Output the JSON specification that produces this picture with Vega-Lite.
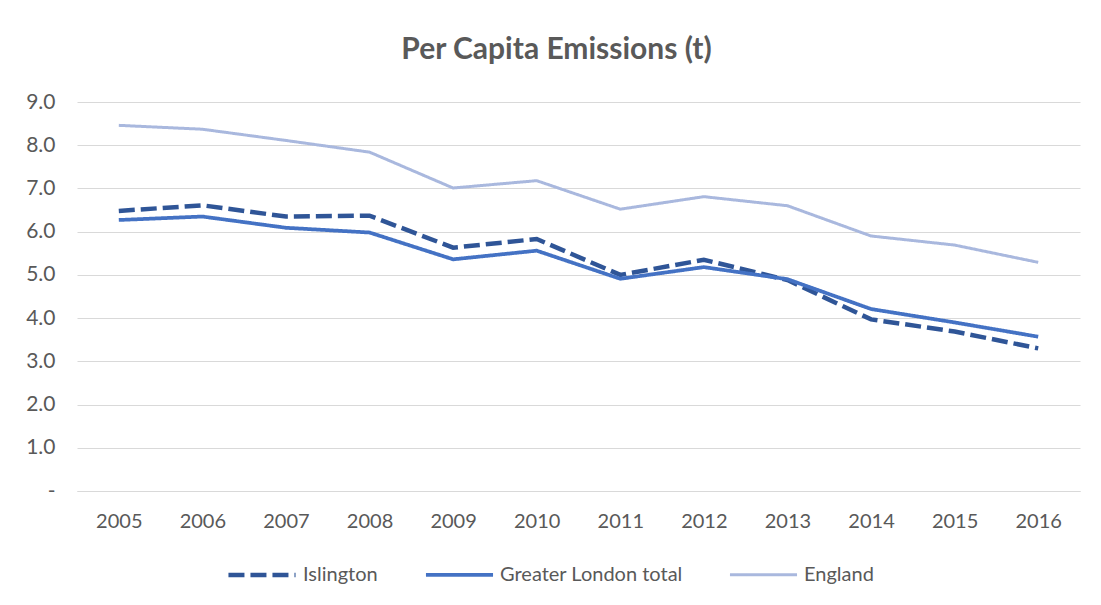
{
  "$schema": "https://vega.github.io/schema/vega-lite/v6.json",
  "width": 1003,
  "height": 389,
  "autosize": "none",
  "padding": {"left": 77, "top": 102, "right": 21, "bottom": 114},
  "background": "white",
  "title": {
    "text": "Per Capita Emissions (t)",
    "font": "Lato",
    "fontSize": 30,
    "fontWeight": "bold",
    "color": "#595959",
    "anchor": "middle",
    "dx": -22,
    "offset": 26
  },
  "config": {
    "view": {"stroke": null},
    "font": "Lato"
  },
  "data": {
    "values": [
      {"year": "2005", "series": "Islington", "value": 6.48},
      {"year": "2006", "series": "Islington", "value": 6.61},
      {"year": "2007", "series": "Islington", "value": 6.35},
      {"year": "2008", "series": "Islington", "value": 6.37},
      {"year": "2009", "series": "Islington", "value": 5.63},
      {"year": "2010", "series": "Islington", "value": 5.83},
      {"year": "2011", "series": "Islington", "value": 5.0},
      {"year": "2012", "series": "Islington", "value": 5.35},
      {"year": "2013", "series": "Islington", "value": 4.88},
      {"year": "2014", "series": "Islington", "value": 3.97},
      {"year": "2015", "series": "Islington", "value": 3.69},
      {"year": "2016", "series": "Islington", "value": 3.3},
      {"year": "2005", "series": "Greater London total", "value": 6.27},
      {"year": "2006", "series": "Greater London total", "value": 6.35},
      {"year": "2007", "series": "Greater London total", "value": 6.09},
      {"year": "2008", "series": "Greater London total", "value": 5.98},
      {"year": "2009", "series": "Greater London total", "value": 5.36},
      {"year": "2010", "series": "Greater London total", "value": 5.56},
      {"year": "2011", "series": "Greater London total", "value": 4.91},
      {"year": "2012", "series": "Greater London total", "value": 5.18},
      {"year": "2013", "series": "Greater London total", "value": 4.9},
      {"year": "2014", "series": "Greater London total", "value": 4.21},
      {"year": "2015", "series": "Greater London total", "value": 3.9},
      {"year": "2016", "series": "Greater London total", "value": 3.57},
      {"year": "2005", "series": "England", "value": 8.46},
      {"year": "2006", "series": "England", "value": 8.37},
      {"year": "2007", "series": "England", "value": 8.11},
      {"year": "2008", "series": "England", "value": 7.84},
      {"year": "2009", "series": "England", "value": 7.01},
      {"year": "2010", "series": "England", "value": 7.18},
      {"year": "2011", "series": "England", "value": 6.52},
      {"year": "2012", "series": "England", "value": 6.81},
      {"year": "2013", "series": "England", "value": 6.6},
      {"year": "2014", "series": "England", "value": 5.9},
      {"year": "2015", "series": "England", "value": 5.69},
      {"year": "2016", "series": "England", "value": 5.29}
    ]
  },
  "mark": {"type": "line", "strokeJoin": "miter", "strokeCap": "butt"},
  "encoding": {
    "x": {
      "field": "year",
      "type": "ordinal",
      "scale": {"type": "point", "padding": 0.5},
      "axis": {
        "title": null,
        "labelAngle": 0,
        "ticks": false,
        "domainColor": "#d9d9d9",
        "domainWidth": 1,
        "labelFont": "Lato",
        "labelFontSize": 20,
        "labelColor": "#595959",
        "labelPadding": 20
      }
    },
    "y": {
      "field": "value",
      "type": "quantitative",
      "scale": {"domain": [0, 9], "nice": false},
      "axis": {
        "title": null,
        "values": [0, 1, 2, 3, 4, 5, 6, 7, 8, 9],
        "labelExpr": "datum.value == 0 ? '-' : format(datum.value, '.1f')",
        "domain": false,
        "ticks": false,
        "gridColor": "#d9d9d9",
        "gridWidth": 1,
        "labelFont": "Lato",
        "labelFontSize": 21,
        "labelColor": "#595959",
        "labelPadding": 22
      }
    },
    "color": {
      "field": "series",
      "type": "nominal",
      "scale": {
        "domain": ["Islington", "Greater London total", "England"],
        "range": ["#2F5597", "#4472C4", "#A9B8DE"]
      },
      "legend": {
        "title": null,
        "orient": "none",
        "legendX": 149,
        "legendY": 437,
        "direction": "horizontal",
        "symbolType": "stroke",
        "symbolSize": 4500,
        "symbolStrokeWidth": 4.5,
        "labelFont": "Lato",
        "labelFontSize": 20,
        "labelLimit": 400,
        "labelColor": "#595959",
        "columnPadding": 40,
        "labelOffset": 5
      }
    },
    "strokeDash": {
      "field": "series",
      "type": "nominal",
      "scale": {
        "domain": ["Islington", "Greater London total", "England"],
        "range": [[16, 6], [1, 0], [1, 0]]
      },
      "legend": null
    },
    "strokeWidth": {
      "field": "series",
      "type": "nominal",
      "scale": {
        "domain": ["Islington", "Greater London total", "England"],
        "range": [4.5, 3, 3]
      },
      "legend": null
    }
  }
}
